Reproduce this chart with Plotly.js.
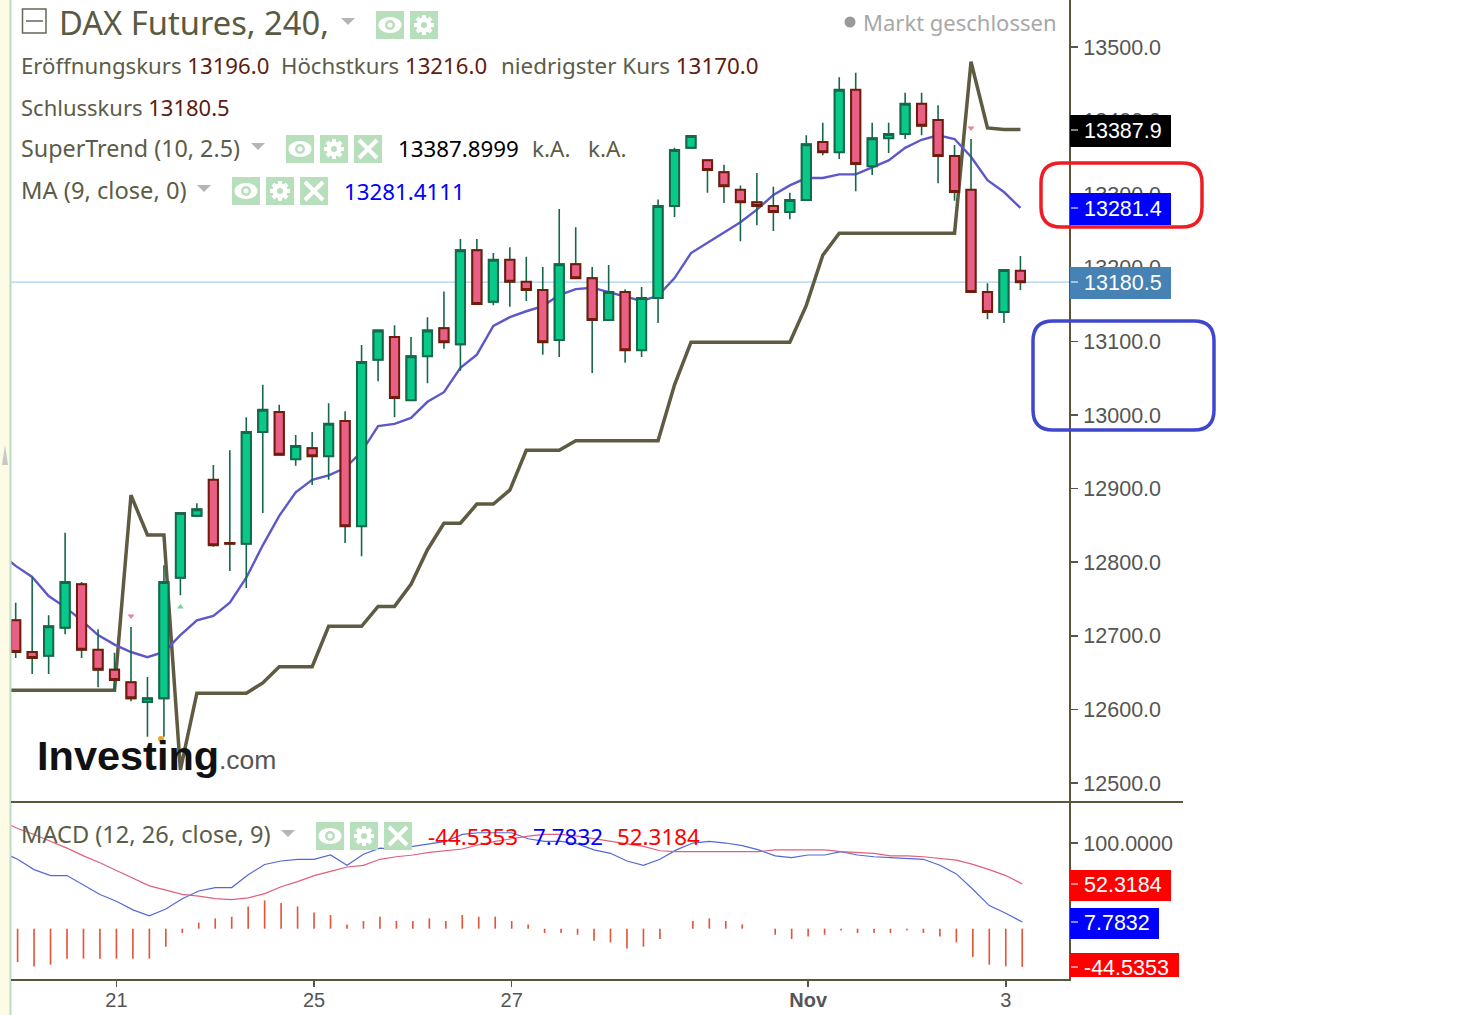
<!DOCTYPE html>
<html><head><meta charset="utf-8">
<script src="https://cdn.plot.ly/plotly-3.0.1.min.js"></script>
<style>html,body{margin:0;padding:0;background:#fff}</style></head>
<body><div id="chart" style="width:1458px;height:1015px"></div>
<script>
const candleIdx = Array.from({length:62},(_,i)=>i);
const lineIdx = [-1].concat(candleIdx);
const opens = [12721,12678,12673,12711,12770,12681,12654,12637,12610,12615,12779,12863,12912,12826,12825,12977,13004,12940,12955,12944,12992,12849,13075,13106,13020,13080,13118,13096,13224,13154,13211,13181,13170,13102,13205,13186,13129,13167,13088,13159,13284,13363,13346,13330,13306,13289,13284,13276,13292,13371,13357,13442,13338,13376,13382,13423,13401,13352,13306,13167,13140,13196];
const highs = [12745,12780,12728,12840,12773,12709,12677,12712,12644,12796,12867,12880,12932,12952,12997,13041,13014,12973,12977,13016,13005,13095,13115,13122,13106,13133,13168,13239,13239,13220,13228,13215,13201,13280,13255,13201,13204,13171,13174,13293,13363,13379,13346,13340,13312,13329,13310,13302,13380,13397,13459,13465,13397,13397,13438,13438,13421,13367,13375,13179,13197,13216];
const lows = [12670,12648,12648,12702,12670,12630,12626,12611,12563,12563,12755,12863,12821,12788,12765,12867,12946,12931,12905,12912,12826,12808,13046,12997,13020,13043,13090,13060,13151,13149,13147,13155,13082,13079,13186,13057,13129,13071,13079,13125,13269,13363,13302,13288,13236,13258,13250,13266,13292,13353,13348,13304,13326,13356,13375,13380,13315,13291,13167,13130,13125,13170];
const closes = [12678,12670,12713,12773,12681,12654,12640,12615,12615,12773,12867,12872,12823,12825,12977,13007,12946,12958,12944,12988,12849,13072,13115,13023,13080,13115,13099,13224,13151,13211,13181,13170,13099,13205,13186,13129,13167,13088,13159,13284,13360,13379,13333,13311,13289,13284,13276,13292,13368,13357,13442,13341,13376,13382,13423,13393,13352,13303,13167,13140,13197,13180.5];
const superTrend = [12626,12626,12626,12626,12626,12626,12626,12626,12891,12837,12837,12518,12622,12622,12622,12622,12636,12658,12658,12658,12713,12713,12713,12740,12740,12770,12817,12853,12853,12879,12879,12898,12952,12952,12952,12965,12965,12965,12965,12965,12965,13041,13099,13099,13099,13099,13099,13099,13099,13149,13217,13247,13247,13247,13247,13247,13247,13247,13247,13480,13390,13388,13387.9];
const movingAvg = [12813,12795,12780,12754,12739,12721,12701,12688,12678,12671,12678,12701,12721,12727,12745,12779,12823,12863,12895,12912,12918,12928,12950,12985,12988,12996,13018,13031,13064,13082,13121,13133,13141,13148,13163,13171,13173,13167,13162,13155,13162,13186,13220,13234,13247,13262,13279,13299,13312,13322,13322,13327,13327,13336,13346,13363,13374,13380,13375,13351,13319,13303,13281.4];
const macdLine = [90,81,69,62,62,51,40,32,22,15,23,35,44,48,48,63,75,79,81,81,86,74,87,94,93,96,99,102,110,112,112,112,105,102,102,99,92,88,79,74,81,92,100,102,100,97,92,85,83,86,86,90,86,84,83,82,81,74,64,46,27,18,7.7832];
const signalLine = [126,117,110,102,94,85,77,68,59,50,45,40,38,35,34,36,41,49,55,62,67,72,74,81,84,86,89,91,93,98,102,105,108,110,110,108,105,102,99,96,91,90,90,90,90,90,90,92,92,92,92,90,89,88,85,85,84,82,80,75,69,62,52.3184];
const histogram = [-39,-44,-42,-35,-35,-35,-35,-35,-35,-21,-5,7,12,14,26,33,30,26,19,16,5,9,14,9,9,12,9,16,14,14,9,5,-5,-5,-7,-14,-16,-23,-21,-12,0,9,12,9,5,0,-7,-12,-9,-7,-2,-5,-5,-5,-2,-5,-9,-16,-33,-42,-44,-44.5353];
const priceTicks = [12500,12600,12700,12800,12900,13000,13100,13200,13300,13400,13500];
const priceTickLabels = ['12500.0','12600.0','12700.0','12800.0','12900.0','13000.0','13100.0','13200.0','13300.0','13400.0','13500.0'];
const macdTicks = [100];
const macdTickLabels = ['100.0000'];
const dateTicks = [6,18,30,48,60];
const dateLabels = ['21','25','27','<b>Nov</b>','3'];
const lastClose = 13180.5;

const W=1458,H=1015;
const px=x=>x/W, py=y=>1-y/H;
const OL='#5a5638', GREY='#555555', LBL='#5c5c48', VAL='#5e1c10';
const TF='"Noto Sans", sans-serif', AF='"Liberation Sans", Arial, sans-serif';
const bodyHigh=opens.map((o,i)=>Math.max(o,closes[i]));
const bodyLow=opens.map((o,i)=>Math.min(o,closes[i]));

const traces=[
 {type:'scatter',mode:'lines',x:lineIdx,y:superTrend,xaxis:'x',yaxis:'y',line:{color:'#5e5b42',width:3.5},zorder:0,name:'SuperTrend'},
 {type:'scatter',mode:'lines',x:lineIdx,y:movingAvg,xaxis:'x',yaxis:'y',line:{color:'#5c58c9',width:2.4},zorder:0,name:'MA'},
 {type:'candlestick',x:candleIdx,open:opens,high:highs,low:lows,close:closes,xaxis:'x',yaxis:'y',whiskerwidth:0,zorder:1,name:'wick',
  increasing:{line:{color:'#17684a',width:1.6},fillcolor:'#17684a'},decreasing:{line:{color:'#17684a',width:1.6},fillcolor:'#17684a'}},
 {type:'candlestick',x:candleIdx,open:opens,high:bodyHigh,low:bodyLow,close:closes,xaxis:'x',yaxis:'y',whiskerwidth:0,zorder:2,name:'body',
  increasing:{line:{color:'#17684a',width:2},fillcolor:'#08c98a'},decreasing:{line:{color:'#701c0c',width:2},fillcolor:'#ea5f86'}},
 {type:'scatter',mode:'markers',x:[7,10,58],y:[12727,12739,13390],xaxis:'x',yaxis:'y',zorder:3,name:'signals',
  marker:{symbol:['triangle-down','triangle-up','triangle-down'],size:6,color:['#f08098','#70d890','#f08098']}},
 {type:'bar',x:candleIdx,y:histogram,xaxis:'x2',yaxis:'y2',width:0.1,marker:{color:'#e2563a',line:{width:0}},name:'Hist'},
 {type:'scatter',mode:'lines',x:lineIdx,y:macdLine,xaxis:'x2',yaxis:'y2',line:{color:'#5468d8',width:1.2},name:'MACD'},
 {type:'scatter',mode:'lines',x:lineIdx,y:signalLine,xaxis:'x2',yaxis:'y2',line:{color:'#e0607c',width:1.2},name:'Signal'}
];

const shapes=[];
const ann=[];
function rect(x0,y0,x1,y1,fill,line,lw,layer){shapes.push({type:'rect',xref:'paper',yref:'paper',x0:px(x0),x1:px(x1),y0:py(y0),y1:py(y1),fillcolor:fill||'rgba(0,0,0,0)',line:{color:line||'rgba(0,0,0,0)',width:lw||0},layer:layer||'above'});}
function seg(x0,y0,x1,y1,c,w){shapes.push({type:'line',xref:'paper',yref:'paper',x0:px(x0),x1:px(x1),y0:py(y0),y1:py(y1),line:{color:c,width:w},layer:'above'});}
function ell(cx,cy,rx,ry,fill){shapes.push({type:'circle',xref:'paper',yref:'paper',x0:px(cx-rx),x1:px(cx+rx),y0:py(cy-ry),y1:py(cy+ry),fillcolor:fill,line:{width:0},layer:'above'});}
const circ=(cx,cy,r,fill)=>ell(cx,cy,r,r,fill);
function rrect(x0,y0,x1,y1,r,c,w){
 const P=(x,y)=>px(x)+','+py(y);
 shapes.push({type:'path',xref:'paper',yref:'paper',layer:'above',line:{color:c,width:w},
 path:'M'+P(x0+r,y0)+' L'+P(x1-r,y0)+' Q'+P(x1,y0)+' '+P(x1,y0+r)+' L'+P(x1,y1-r)+' Q'+P(x1,y1)+' '+P(x1-r,y1)+' L'+P(x0+r,y1)+' Q'+P(x0,y1)+' '+P(x0,y1-r)+' L'+P(x0,y0+r)+' Q'+P(x0,y0)+' '+P(x0+r,y0)+' Z'});}
function tri(x0,x1,y0,y1,c){shapes.push({type:'path',xref:'paper',yref:'paper',layer:'above',fillcolor:c,line:{width:0},
 path:'M'+px(x0)+','+py(y0)+' L'+px(x1)+','+py(y0)+' L'+px((x0+x1)/2)+','+py(y1)+' Z'});}
function txt(x,y,text,size,color,opt){ann.push(Object.assign({xref:'paper',yref:'paper',x:px(x),y:py(y),xanchor:'left',yanchor:'middle',showarrow:false,text,borderpad:0,
 font:{family:TF,size,color}},opt||{}));}
const G='#b8dfbc';
function eye(x,y){rect(x,y,x+28,y+28,G);ell(x+14,y+14,11.5,8,'#fff');circ(x+14,y+14,5,G);circ(x+14,y+14,2.5,'#fff');}
function gear(x,y){rect(x,y,x+28,y+28,G);
 seg(x+14,y+4,x+14,y+24,'#fff',4);seg(x+4,y+14,x+24,y+14,'#fff',4);seg(x+7,y+7,x+21,y+21,'#fff',4);seg(x+21,y+7,x+7,y+21,'#fff',4);
 circ(x+14,y+14,7.5,'#fff');circ(x+14,y+14,3,G);}
function cross(x,y){rect(x,y,x+28,y+28,G);seg(x+5,y+5,x+23,y+23,'#fff',4);seg(x+23,y+5,x+5,y+23,'#fff',4);}

// left strip
rect(0,0,10,H,'#fdfbe6',null,0,'below');
seg(10.5,0,10.5,H,'#bcdcc4',2);
tri(2,8,465,445,'#c8c8c8');
// price line
shapes.push({type:'line',xref:'x',yref:'y',x0:-1,x1:64,y0:lastClose,y1:lastClose,line:{color:'#a6d0f0',width:1.3},layer:'below'});
// axis frame
seg(11,802,1183,802,OL,2);
seg(1070,0,1070,981,OL,2);
seg(11,980,1070,980,OL,2);
// value boxes
function vbox(y0,y1,x1,fill,label,tickY,cy){rect(1070,y0,x1,y1,fill);seg(1071,tickY,1078,tickY,'rgba(255,255,255,0.7)',1.5);
 txt(1083,cy,label,21.5,'#fff',{font:{family:AF,size:21.5,color:'#fff'}});}
vbox(115,147,1171,'#000000','13387.9',130,131);
vbox(193,225,1171,'#0000ff','13281.4',208,209);
vbox(267,299,1171,'#4682b4','13180.5',282,283);
vbox(870,901,1171,'#ff0000','52.3184',884,885);
vbox(908,939,1159,'#0000ff','7.7832',922,923);
vbox(953,977,1179,'#ff0000','-44.5353',967,968);
// highlight frames
rrect(1041,163,1202,227,20,'#ee1c25',3.5);
rrect(1033,321,1214,430,20,'#3f48cc',3.5);
// header
shapes.push({type:'rect',xref:'paper',yref:'paper',x0:px(22.5),x1:px(46),y0:py(9),y1:py(33),line:{color:'#66665a',width:1.5},fillcolor:'rgba(0,0,0,0)',layer:'above'});
seg(26,21,43,21,'#66665a',1.5);
txt(58,23,'DAX Futures, 240,',32.7,'#5a5a42');
tri(341,355,18,25,'#b5b5b5'); eye(376,11); gear(410,11);
circ(850,22,5.5,'#9a9a9a');
txt(862,22,'Markt geschlossen',22,'#a8a8a8');
const pair=(l,v)=>l+' <span style="color:'+VAL+'">'+v+'</span>';
txt(20,66,pair('Eröffnungskurs','13196.0'),22.2,LBL);
txt(280,66,pair('Höchstkurs','13216.0'),22.2,LBL);
txt(500,66,pair('niedrigster Kurs','13170.0'),22.4,LBL);
txt(20,107,pair('Schlusskurs','13180.5'),22,LBL);
txt(20,148,'SuperTrend (10, 2.5)',23.3,LBL);
tri(251,265,143,150,'#b5b5b5'); eye(286,135); gear(320,135); cross(354,135);
txt(397,149,'13387.8999',22.3,'#000');
txt(531,149,'k.A.',22.5,LBL);
txt(587,149,'k.A.',22.5,LBL);
txt(20,190,'MA (9, close, 0)',23.7,LBL);
tri(197,211,185,192,'#b5b5b5'); eye(232,177); gear(266,177); cross(300,177);
txt(343,191,'13281.4111',22.3,'#0000ff');
txt(20,834,'MACD (12, 26, close, 9)',23.6,LBL);
tri(281,295,830,837,'#b5b5b5'); eye(316,822); gear(350,822); cross(384,822);
txt(427,836,'-44.5353',22.4,'#ff0000');
txt(532,836,'7.7832',22.4,'#0000ff');
txt(616,836,'52.3184',22.4,'#ff0000');
// logo
txt(36,755,'Investing',41.5,'#111',{font:{family:AF,size:41.5,color:'#111',weight:700}});
txt(218,760,'.com',26.5,'#555',{font:{family:AF,size:26.5,color:'#555'}});
circ(161,739,3,'#f0a818');

const axisFont={family:AF,size:21.5,color:GREY};
const layout={
 width:W,height:H,margin:{l:0,r:0,t:0,b:0},paper_bgcolor:'#fff',plot_bgcolor:'#fff',showlegend:false,hovermode:false,dragmode:false,
 boxmode:'overlay',boxgap:0.2,barmode:'overlay',
 xaxis:{domain:[px(11),px(1070)],range:[-0.285,64.01],anchor:'y',showgrid:false,zeroline:false,showticklabels:false,ticks:'',rangeslider:{visible:false},showline:false},
 yaxis:{domain:[py(802),1],range:[12474.2,13563.9],anchor:'x',side:'right',showgrid:false,zeroline:false,
  tickmode:'array',tickvals:priceTicks,ticktext:priceTickLabels,ticks:'outside',ticklen:7,tickcolor:GREY,tickwidth:1.5,tickfont:axisFont,ticklabelstandoff:1},
 xaxis2:{domain:[px(11),px(1070)],range:[-0.4007,63.90],anchor:'y2',showgrid:false,zeroline:false,
  tickmode:'array',tickvals:dateTicks,ticktext:dateLabels,ticks:'outside',ticklen:6,tickcolor:GREY,tickwidth:1.5,tickfont:{family:AF,size:20,color:GREY},ticklabelstandoff:-4},
 yaxis2:{domain:[py(980),py(802)],range:[-59.9,147.9],anchor:'x2',side:'right',showgrid:false,zeroline:false,
  tickmode:'array',tickvals:macdTicks,ticktext:macdTickLabels,ticks:'outside',ticklen:7,tickcolor:GREY,tickwidth:1.5,tickfont:axisFont,ticklabelstandoff:1},
 shapes:shapes,annotations:ann
};
Plotly.newPlot('chart',traces,layout,{displayModeBar:false,staticPlot:true});
</script></body></html>
